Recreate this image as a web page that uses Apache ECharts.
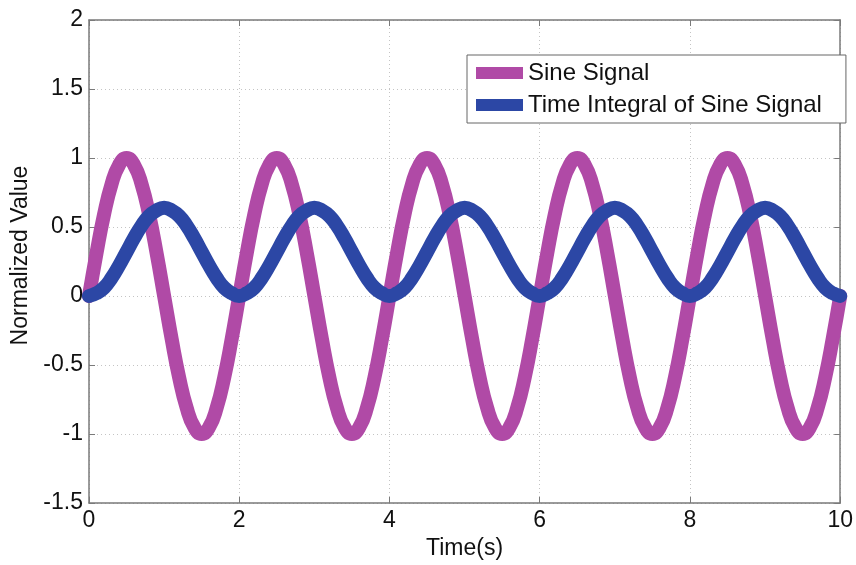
<!DOCTYPE html>
<html>
<head>
<meta charset="utf-8">
<script src="https://cdn.jsdelivr.net/npm/echarts@6/dist/echarts.min.js"></script>
<style>html,body{margin:0;padding:0;background:#fff}#c{width:856px;height:565px}</style>
</head>
<body>
<div id="c"></div>
<script>
const times = [0,0.1,0.2,0.3,0.4,0.5,0.6,0.7,0.8,0.9,1,1.1,1.2,1.3,1.4,1.5,1.6,1.7,1.8,1.9,2,2.1,2.2,2.3,2.4,2.5,2.6,2.7,2.8,2.9,3,3.1,3.2,3.3,3.4,3.5,3.6,3.7,3.8,3.9,4,4.1,4.2,4.3,4.4,4.5,4.6,4.7,4.8,4.9,5,5.1,5.2,5.3,5.4,5.5,5.6,5.7,5.8,5.9,6,6.1,6.2,6.3,6.4,6.5,6.6,6.7,6.8,6.9,7,7.1,7.2,7.3,7.4,7.5,7.6,7.7,7.8,7.9,8,8.1,8.2,8.3,8.4,8.5,8.6,8.7,8.8,8.9,9,9.1,9.2,9.3,9.4,9.5,9.6,9.7,9.8,9.9,10];
const sineSignal = [0,0.31,0.59,0.81,0.95,1,0.95,0.81,0.59,0.31,0,-0.31,-0.59,-0.81,-0.95,-1,-0.95,-0.81,-0.59,-0.31,
0,0.31,0.59,0.81,0.95,1,0.95,0.81,0.59,0.31,0,-0.31,-0.59,-0.81,-0.95,-1,-0.95,-0.81,-0.59,-0.31,
0,0.31,0.59,0.81,0.95,1,0.95,0.81,0.59,0.31,0,-0.31,-0.59,-0.81,-0.95,-1,-0.95,-0.81,-0.59,-0.31,
0,0.31,0.59,0.81,0.95,1,0.95,0.81,0.59,0.31,0,-0.31,-0.59,-0.81,-0.95,-1,-0.95,-0.81,-0.59,-0.31,
0,0.31,0.59,0.81,0.95,1,0.95,0.81,0.59,0.31,0,-0.31,-0.59,-0.81,-0.95,-1,-0.95,-0.81,-0.59,-0.31,0];
const sineIntegral = [0,0.02,0.06,0.13,0.22,0.32,0.42,0.51,0.58,0.62,0.64,0.62,0.58,0.51,0.42,0.32,0.22,0.13,0.06,0.02,
0,0.02,0.06,0.13,0.22,0.32,0.42,0.51,0.58,0.62,0.64,0.62,0.58,0.51,0.42,0.32,0.22,0.13,0.06,0.02,
0,0.02,0.06,0.13,0.22,0.32,0.42,0.51,0.58,0.62,0.64,0.62,0.58,0.51,0.42,0.32,0.22,0.13,0.06,0.02,
0,0.02,0.06,0.13,0.22,0.32,0.42,0.51,0.58,0.62,0.64,0.62,0.58,0.51,0.42,0.32,0.22,0.13,0.06,0.02,
0,0.02,0.06,0.13,0.22,0.32,0.42,0.51,0.58,0.62,0.64,0.62,0.58,0.51,0.42,0.32,0.22,0.13,0.06,0.02,0];
const seriesNames = ['Sine Signal','Time Integral of Sine Signal'];
const xTicks = [0,2,4,6,8,10];
const yTicks = [-1.5,-1,-0.5,0,0.5,1,1.5,2];

const font = '"Liberation Sans", Arial, sans-serif';
const axisGray = '#7a7a7a';
const chart = echarts.init(document.getElementById('c'));
const pair = (arr) => times.map((t, i) => [t, arr[i]]);
const fmtY = v => yTicks.includes(v) ? String(v) : '';
const fmtX = v => xTicks.includes(v) ? String(v) : '';

const lineAx = {show: true, onZero: false, lineStyle: {color: axisGray, width: 1.5}};
const tickAx = {show: true, inside: true, length: 6, lineStyle: {color: axisGray}};
const gridLine = {show: true, lineStyle: {color: '#c4c4c4', type: [1, 3], width: 1}};

chart.setOption({
  animation: false,
  grid: {left: 89, right: 13, top: 20, bottom: 62},
  legend: {
    orient: 'vertical', left: 467, top: 55,
    padding: [6, 24, 6, 9], itemGap: 8,
    backgroundColor: '#fff', borderColor: '#666', borderWidth: 1,
    icon: 'rect', itemWidth: 47, itemHeight: 12,
    textStyle: {fontFamily: font, fontSize: 24, color: '#111'},
    data: seriesNames
  },
  xAxis: [{
    type: 'value', min: 0, max: 10, interval: 2,
    name: 'Time(s)', nameLocation: 'middle', nameGap: 31,
    nameTextStyle: {fontFamily: font, fontSize: 23, color: '#111'},
    axisLine: lineAx, axisTick: tickAx,
    axisLabel: {fontFamily: font, fontSize: 23, color: '#111', margin: 6, formatter: fmtX},
    splitLine: gridLine
  }, {
    type: 'value', min: 0, max: 10, interval: 2, position: 'top',
    axisLine: lineAx, axisTick: tickAx,
    axisLabel: {show: false}, splitLine: {show: false}
  }],
  yAxis: [{
    type: 'value', min: -1.5, max: 2, interval: 0.5,
    name: 'Normalized Value', nameLocation: 'middle', nameGap: 51,
    nameTextStyle: {fontFamily: font, fontSize: 23, color: '#111', padding: [0, 0, 0, 12]},
    axisLine: lineAx, axisTick: tickAx,
    axisLabel: {fontFamily: font, fontSize: 23, color: '#111', margin: 6, formatter: fmtY},
    splitLine: gridLine
  }, {
    type: 'value', min: -1.5, max: 2, interval: 0.5, position: 'right',
    axisLine: lineAx, axisTick: tickAx,
    axisLabel: {show: false}, splitLine: {show: false}
  }],
  series: [{
    name: seriesNames[0], type: 'line', smooth: true, showSymbol: false,
    color: '#b04aa6',
    lineStyle: {width: 14, color: '#b04aa6', cap: 'round', join: 'round'},
    data: pair(sineSignal), z: 2
  }, {
    name: seriesNames[1], type: 'line', smooth: true, showSymbol: false,
    color: '#2c47a5',
    lineStyle: {width: 14, color: '#2c47a5', cap: 'round', join: 'round'},
    data: pair(sineIntegral), z: 3
  }]
});
</script>
</body>
</html>
